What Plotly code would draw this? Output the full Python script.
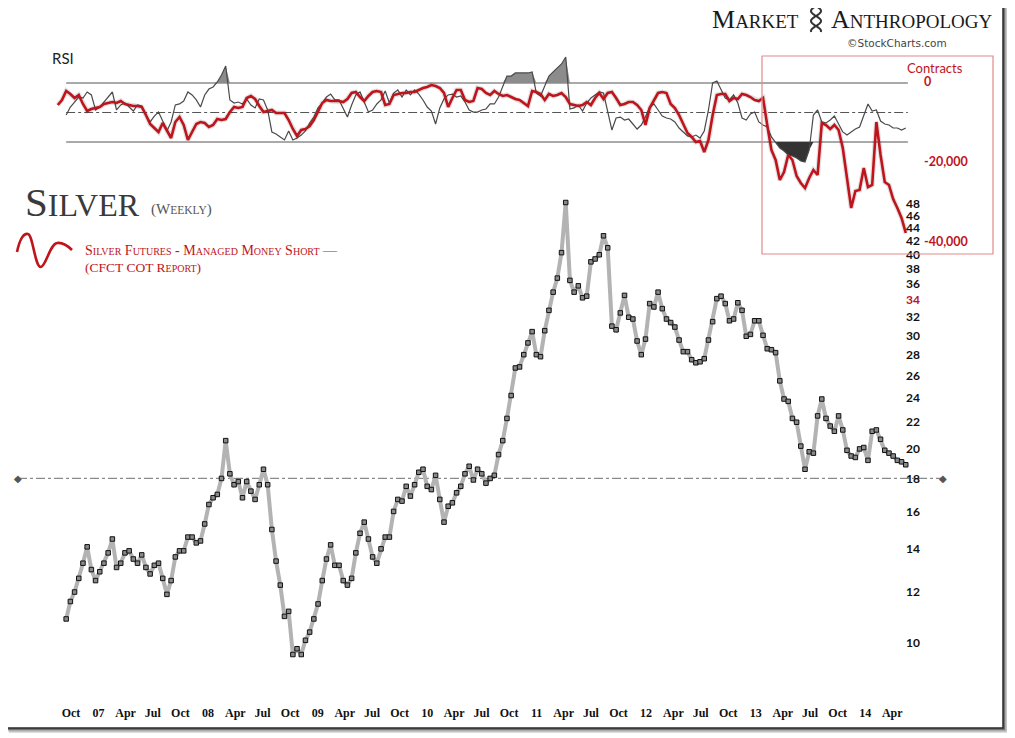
import numpy as np
import pandas as pd
import plotly.graph_objects as go

W, H = 1015, 738
OFF = 8  # page margin of the browser, the figure starts 8px right and down
RED = '#c0141c'

# silver, biweekly closes (USD/oz), mid-Sep 2006 .. mid-May 2014
silver_close = [
    10.9, 11.6, 12.0, 12.6, 13.3, 14.1, 13.0, 12.5, 12.9, 13.3,
    13.8, 14.5, 13.1, 13.3, 13.8, 13.9, 13.5, 13.3, 13.7, 13.1,
    12.8, 13.2, 13.3, 12.6, 11.9, 12.5, 13.6, 13.9, 13.9, 14.6,
    14.6, 14.3, 14.4, 15.3, 16.4, 16.8, 17.0, 18.0, 20.6, 18.3,
    17.6, 17.8, 16.8, 17.8, 17.2, 16.7, 17.6, 18.6, 17.6, 15.0,
    13.4, 12.3, 11.0, 11.2, 9.6, 9.8, 9.6, 10.1, 10.4, 10.9,
    11.5, 12.5, 13.5, 14.2, 13.2, 13.2, 12.5, 12.3, 12.6, 13.8,
    14.8, 15.4, 14.5, 13.6, 13.3, 14.0, 14.6, 14.6, 16.0, 16.7,
    16.6, 17.5, 16.9, 17.6, 18.4, 18.6, 17.5, 17.3, 18.2, 16.7,
    15.4, 16.3, 16.5, 17.1, 17.5, 18.3, 18.8, 17.9, 18.6, 18.3,
    17.7, 18.0, 18.2, 19.6, 20.6, 22.3, 24.2, 26.7, 26.8, 28.0,
    29.2, 30.4, 28.0, 27.8, 30.5, 32.8, 35.0, 36.8, 40.3, 48.2,
    36.5, 35.0, 35.8, 34.3, 34.5, 39.0, 39.4, 40.0, 42.8, 41.0,
    31.0, 30.6, 32.5, 34.6, 32.0, 31.8, 29.4, 28.0, 29.6, 33.6,
    33.2, 35.0, 33.0, 31.8, 31.4, 30.9, 29.5, 28.3, 28.3, 27.5,
    27.2, 27.3, 27.6, 29.5, 31.5, 34.2, 34.5, 33.6, 31.6, 31.8,
    33.7, 32.8, 29.9, 30.1, 31.6, 31.6, 30.0, 28.6, 28.5, 28.2,
    25.5, 23.9, 23.7, 22.3, 22.0, 20.2, 18.6, 19.8, 19.7, 22.5,
    23.9, 22.3, 21.7, 21.3, 22.5, 21.4, 19.9, 19.5, 19.4, 20.0,
    20.1, 19.2, 21.3, 21.4, 20.7, 19.9, 19.7, 19.5, 19.2, 19.1,
    18.9,
]

# RSI of silver, same dates
silver_rsi = [
    48.3, 53.7, 57.1, 60.5, 59.8, 63.9, 61.9, 51.7, 53.7, 57.1,
    59.8, 63.9, 51.7, 55.1, 56.4, 53.7, 51.0, 55.1, 54.4, 48.3,
    43.6, 47.6, 50.3, 44.2, 37.5, 43.6, 55.1, 55.8, 57.8, 63.9,
    61.9, 58.5, 53.7, 61.9, 65.9, 67.3, 70.7, 75.4, 81.5, 58.5,
    56.4, 57.1, 55.8, 59.2, 55.1, 53.1, 59.2, 58.5, 51.7, 36.8,
    35.4, 33.4, 31.4, 37.5, 31.4, 32.7, 34.7, 37.5, 42.9, 46.9,
    53.1, 56.4, 60.5, 62.5, 58.5, 58.5, 53.1, 46.9, 55.1, 61.9,
    63.9, 57.1, 50.3, 51.7, 55.8, 58.5, 64.6, 56.4, 63.2, 65.3,
    60.5, 65.3, 61.9, 65.3, 62.5, 58.5, 53.7, 51.0, 42.2, 53.1,
    59.2, 61.9, 62.5, 60.5, 61.2, 57.1, 51.7, 50.3, 50.3, 51.7,
    52.4, 55.8, 55.8, 60.5, 67.3, 74.7, 74.7, 76.8, 76.8, 76.8,
    76.8, 77.5, 63.2, 61.2, 68.0, 74.7, 77.5, 80.2, 82.9, 87.6,
    52.4, 53.1, 55.1, 51.0, 56.4, 59.8, 61.9, 63.9, 63.2, 50.3,
    38.1, 46.3, 46.9, 44.9, 45.6, 42.2, 38.8, 41.5, 46.9, 53.7,
    55.8, 51.7, 47.6, 46.3, 45.6, 43.6, 39.5, 36.8, 34.1, 33.4,
    34.7, 32.7, 37.5, 51.7, 70.0, 71.4, 65.9, 59.8, 58.5, 61.9,
    56.4, 46.3, 44.9, 49.0, 50.3, 43.6, 41.5, 40.2, 33.4, 30.0,
    25.9, 23.9, 21.2, 20.5, 19.2, 17.1, 16.4, 24.6, 48.3, 51.7,
    43.6, 42.9, 44.9, 47.6, 42.2, 36.8, 34.7, 36.8, 38.8, 40.2,
    48.3, 55.8, 51.0, 51.7, 44.2, 42.2, 41.5, 39.5, 39.5, 38.1,
    39.5,
]

# CFTC COT, silver futures managed money short (contracts, shown negative), from mid-Aug 2006
mm_short = [
    -5750, -4500, -2250, -3000, -4000, -3250, -5500, -7250, -6750, -6500,
    -6250, -5500, -5250, -5000, -5250, -4750, -5500, -5750, -6000, -6000,
    -6250, -8250, -10500, -11500, -12500, -10250, -12000, -14000, -10000, -8750,
    -10750, -14500, -12500, -10500, -10000, -10250, -11250, -10750, -9250, -9500,
    -9250, -7500, -6250, -6500, -6250, -4000, -3500, -4250, -6000, -7500,
    -7250, -7000, -7750, -7750, -7750, -9500, -11750, -13500, -12000, -11750,
    -11000, -9500, -7500, -5250, -4500, -4750, -4750, -4750, -5000, -4250,
    -2750, -2500, -3750, -4750, -3500, -2500, -2250, -2500, -5750, -5500,
    -3250, -3000, -2750, -2750, -2500, -2500, -2000, -1500, -1250, -750,
    -1000, -1500, -2750, -6250, -4000, -2000, -2000, -4500, -5000, -4750,
    -1500, -1750, -2750, -3250, -2250, -3000, -3500, -3250, -3750, -4250,
    -4500, -5250, -6000, -2250, -2500, -3000, -4500, -3000, -3500, -3250,
    -2750, -3750, -5500, -5750, -6000, -5750, -5000, -5750, -4000, -2750,
    -4250, -2750, -2500, -4000, -5750, -5500, -5000, -5000, -5750, -7000,
    -10750, -6500, -4500, -2750, -2500, -2750, -5500, -6500, -8250, -10500,
    -12750, -13750, -15000, -14750, -17500, -14500, -8250, -3250, -3000, -3000,
    -4750, -4000, -4250, -3000, -3250, -3750, -4500, -4750, -4000, -10750,
    -17000, -19500, -24500, -22500, -18250, -19500, -23500, -25250, -26500, -24000,
    -22000, -23250, -10250, -10750, -11750, -10750, -12000, -16500, -24000, -31500,
    -27250, -27000, -21500, -26250, -25750, -10000, -18250, -25000, -25750, -29250,
    -31500, -34000, -37750,
]

price_dates = pd.date_range('2006-09-15', periods=len(silver_close), freq='14D')
cot_dates = pd.date_range('2006-08-18', periods=len(mm_short), freq='14D')

tick_dates = pd.date_range('2006-10-01', '2014-04-01', freq='QS')
tick_text = [d.strftime('%y') if d.month == 1 else d.strftime('%b') for d in tick_dates]

price_ticks = list(range(10, 50, 2))
price_text = [f"<span style='color:{RED}'>{v}</span>" if v == 34 else str(v) for v in price_ticks]

contract_ticks = [0, -20000, -40000]
contract_text = ['0', '-20,000', '-40,000']

rsi_levels = [70, 50, 30]


def px(x):
    return (x - OFF) / W


def py(y):
    return 1 - (y - OFF) / H


def pt(x, y):
    return f"{px(x):.5f},{py(y):.5f}"


def caps(text, small):
    # fake small caps: capitals and symbols at base size, lower case as small capitals
    out, run = '', ''
    for ch in text:
        if ch.islower():
            run += ch.upper()
        else:
            if run:
                out += f"<span style='font-size:{small}px'>{run}</span>"
                run = ''
            out += ch
    if run:
        out += f"<span style='font-size:{small}px'>{run}</span>"
    return out


fig = go.Figure()

# RSI fills beyond 70 / 30
rsi = np.array(silver_rsi)
fig.add_trace(go.Scatter(x=price_dates, y=[70] * len(rsi), yaxis='y2', mode='lines',
                         line=dict(width=0), hoverinfo='skip', showlegend=False))
fig.add_trace(go.Scatter(x=price_dates, y=np.maximum(rsi, 70), yaxis='y2', mode='lines',
                         fill='tonexty', fillcolor='#8c8c8c', line=dict(width=0),
                         hoverinfo='skip', showlegend=False))
fig.add_trace(go.Scatter(x=price_dates, y=[30] * len(rsi), yaxis='y2', mode='lines',
                         line=dict(width=0), hoverinfo='skip', showlegend=False))
fig.add_trace(go.Scatter(x=price_dates, y=np.minimum(rsi, 30), yaxis='y2', mode='lines',
                         fill='tonexty', fillcolor='#333333', line=dict(width=0),
                         hoverinfo='skip', showlegend=False))
fig.add_trace(go.Scatter(x=price_dates, y=rsi, yaxis='y2', mode='lines', name='RSI',
                         line=dict(color='#4a4a4a', width=1.2), showlegend=False))

# managed money short
fig.add_trace(go.Scatter(x=cot_dates, y=mm_short, yaxis='y3', mode='lines',
                         line=dict(color='rgba(0,0,0,0.12)', width=5), hoverinfo='skip',
                         showlegend=False))
fig.add_trace(go.Scatter(x=cot_dates, y=mm_short, yaxis='y3', mode='lines',
                         name='Managed Money Short', line=dict(color=RED, width=2.6),
                         showlegend=False))

# silver price
fig.add_trace(go.Scatter(x=price_dates, y=silver_close, yaxis='y', mode='lines+markers',
                         name='Silver', line=dict(color='#b3b3b3', width=4),
                         marker=dict(symbol='square', size=4.5, color='#8a8a8a',
                                     line=dict(color='#111', width=1)),
                         showlegend=False))

shapes = []
# frame with drop shadow
for off, op in [(5, 0.18), (3.5, 0.3), (2, 0.5)]:
    shapes.append(dict(type='rect', xref='paper', yref='paper', layer='below',
                       x0=px(4 + off), x1=px(1003 + off), y0=py(728 + off), y1=py(3 + off),
                       fillcolor=f'rgba(60,60,60,{op})', line=dict(width=0)))
shapes.append(dict(type='rect', xref='paper', yref='paper', layer='below',
                   x0=px(4), x1=px(1003), y0=py(728), y1=py(3),
                   fillcolor='white', line=dict(color='#2a2a2a', width=1.5)))
# RSI levels
for lv in rsi_levels:
    shapes.append(dict(type='line', xref='x', yref='y2', layer='below',
                       x0=price_dates[0], x1=price_dates[-1] + pd.Timedelta(days=7),
                       y0=lv, y1=lv,
                       line=dict(color='#555', width=1, dash='dashdot' if lv == 50 else 'solid')))
# COT box
shapes.append(dict(type='rect', xref='paper', yref='paper',
                   x0=px(762), x1=px(993), y0=py(254), y1=py(56),
                   line=dict(color='#e28a8a', width=1.2)))
# 18 support line
shapes.append(dict(type='line', xref='paper', yref='y', layer='below',
                   x0=px(18), x1=px(943), y0=18, y1=18,
                   line=dict(color='#8a8a8a', width=1.3, dash='dashdot')))
# DNA helix logo
hy = np.linspace(6, 32, 40)
hs = np.sin(2 * np.pi * (hy - 6) / 20)
for sgn in (1, -1):
    d = 'M ' + ' L '.join(pt(816 + sgn * 5 * s, y) for s, y in zip(hs, hy))
    shapes.append(dict(type='path', xref='paper', yref='paper', path=d,
                       line=dict(color='#333', width=2)))
# legend wave
wave = ('M ' + pt(17, 252) + ' C ' + pt(20, 238) + ' ' + pt(24, 233) + ' ' + pt(28, 234) +
        ' C ' + pt(33, 235) + ' ' + pt(35, 268) + ' ' + pt(41, 267) +
        ' C ' + pt(46, 266) + ' ' + pt(50, 244) + ' ' + pt(57, 243) +
        ' C ' + pt(63, 242) + ' ' + pt(68, 246) + ' ' + pt(72, 250))
shapes.append(dict(type='path', xref='paper', yref='paper', path=wave,
                   line=dict(color=RED, width=2.6)))

serif = 'Liberation Serif'
annotations = [
    dict(x=px(801), y=py(20), xanchor='right', text=caps('Market', 19),
         font=dict(family=serif, size=26, color='#1a1a1a')),
    dict(x=px(829), y=py(20), xanchor='left', text=caps('Anthropology', 19),
         font=dict(family=serif, size=26, color='#1a1a1a')),
    dict(x=px(897), y=py(43), text='©StockCharts.com',
         font=dict(family='DejaVu Sans', size=10.5, color='#444')),
    dict(x=px(63), y=py(58), text='RSI', font=dict(family='Lato', size=15, color='#222')),
    dict(x=px(935), y=py(68), text='Contracts', font=dict(family='Lato', size=13, color=RED)),
    dict(x=px(23), y=py(202), xanchor='left', text=caps('Silver', 32),
         font=dict(family=serif, size=41, color='#3a3a3a')),
    dict(x=px(149), y=py(209), xanchor='left', text=caps('(Weekly)', 11.5),
         font=dict(family=serif, size=15, color='#555')),
    dict(x=px(83), y=py(250), xanchor='left',
         text=caps('Silver Futures - Managed Money Short \u2014', 10),
         font=dict(family=serif, size=14, color=RED)),
    dict(x=px(83), y=py(268), xanchor='left', text=caps('(CFCT COT Report)', 10),
         font=dict(family=serif, size=13.5, color=RED)),
]
for a in annotations:
    a['xref'] = 'paper'
    a['yref'] = 'paper'
# diamonds at the ends of the 18 line (annotation y on a log axis is log10)
for xe in (18, 943):
    annotations.append(dict(x=px(xe), y=np.log10(18), xref='paper', yref='y',
                            text='\u25c6', font=dict(size=10, color='#555')))
for a in annotations:
    a.setdefault('xanchor', 'center')
    a['yanchor'] = 'middle'
    a['showarrow'] = False

fig.update_layout(
    width=W, height=H,
    margin=dict(l=0, r=0, t=0, b=0),
    paper_bgcolor='white', plot_bgcolor='rgba(0,0,0,0)',
    showlegend=False,
    xaxis=dict(domain=[0, 1], range=['2006-03-05', '2015-06-11'], anchor='y',
               tickvals=tick_dates, ticktext=tick_text, ticks='', showgrid=False,
               zeroline=False, showline=False, ticklabelstandoff=6,
               tickfont=dict(family='Liberation Sans Narrow', size=12, color='#111',
                             weight='bold')),
    yaxis=dict(domain=[py(698), py(190)], type='log',
               range=[np.log10(8.22), np.log10(50.4)],
               side='right', anchor='free', position=px(905),
               tickvals=price_ticks, ticktext=price_text, ticks='', showgrid=False,
               zeroline=False, showline=False,
               tickfont=dict(family='Lato', size=12, color='#111', weight='bold')),
    yaxis2=dict(domain=[py(260), py(40)], range=[-50, 99.15], visible=False,
                anchor='x'),
    yaxis3=dict(overlaying='y2', range=[-44500, 10500], side='right', anchor='free',
                position=px(923), tickvals=contract_ticks, ticktext=contract_text,
                ticks='', showgrid=False, zeroline=False, showline=False,
                tickfont=dict(family='Lato', size=12.5, color=RED, weight='bold')),
    shapes=shapes,
    annotations=annotations,
)

fig.write_html('out.html')
